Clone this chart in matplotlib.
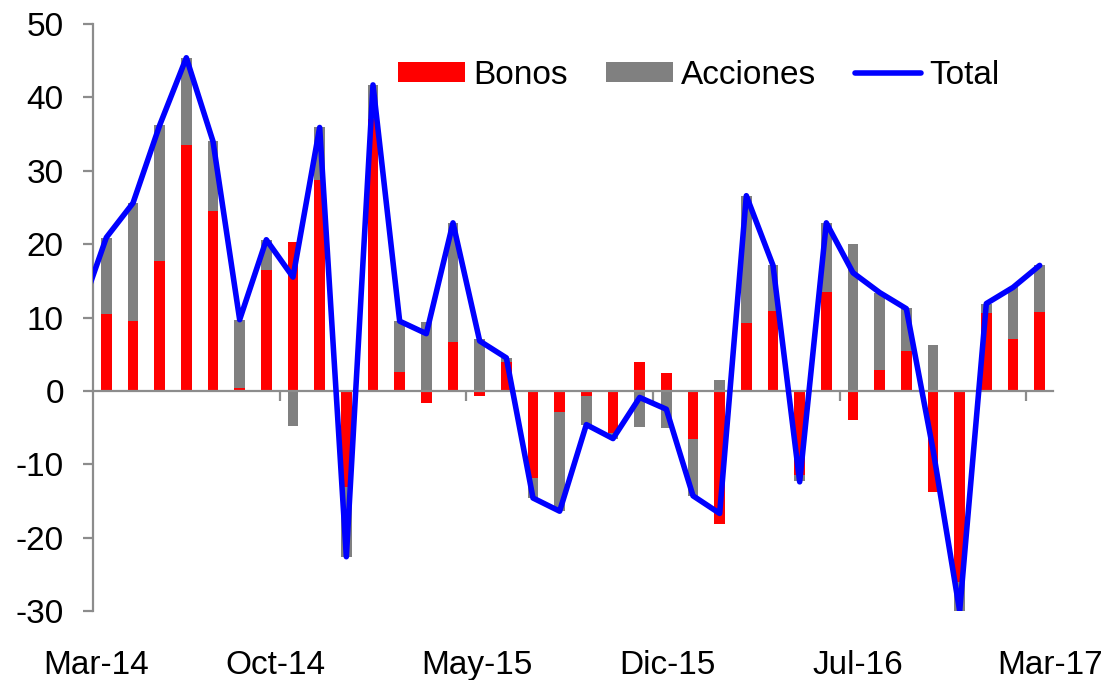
import matplotlib
matplotlib.use("Agg")
import matplotlib.pyplot as plt
import numpy as np

# ---- data ----
months = ["Mar-14", "Abr-14", "May-14", "Jun-14", "Jul-14", "Ago-14", "Sep-14", "Oct-14",
          "Nov-14", "Dic-14", "Ene-15", "Feb-15", "Mar-15", "Abr-15", "May-15", "Jun-15",
          "Jul-15", "Ago-15", "Sep-15", "Oct-15", "Nov-15", "Dic-15", "Ene-16", "Feb-16",
          "Mar-16", "Abr-16", "May-16", "Jun-16", "Jul-16", "Ago-16", "Sep-16", "Oct-16",
          "Nov-16", "Dic-16", "Ene-17", "Feb-17"]
bonos = [10.5, 9.5, 17.7, 33.5, 24.5, 0.4, 16.5, 20.3, 28.7, -13.1, 37.1, 2.6,
         -1.6, 6.6, -0.7, 4.0, -11.9, -2.9, -0.7, -5.7, 3.9, 2.5, -6.6, -18.2,
         9.2, 10.9, -11.5, 13.5, -4.0, 2.9, 5.5, -13.8, -26.0, 10.6, 7.1, 10.8]
acciones = [10.4, 16.1, 18.5, 11.9, 9.5, 9.3, 4.1, -4.8, 7.2, -9.5, 4.6, 6.9,
            9.4, 16.3, 7.1, 0.5, -2.7, -13.5, -4.0, -0.9, -4.9, -5.1, -7.7, 1.5,
            17.4, 6.2, -0.8, 9.4, 20.0, 10.5, 5.8, 6.3, -4.0, 1.3, 7.0, 6.3]
# Total series (line); first value is the month before the visible range (clipped)
total_prev = 10.5
total = [20.9, 25.6, 36.2, 45.4, 34.0, 9.7, 20.6, 15.5, 35.9, -22.6, 41.7, 9.5,
         7.8, 22.9, 6.8, 4.5, -14.6, -16.4, -4.6, -6.5, -0.9, -2.5, -14.3, -16.7,
         26.6, 17.1, -12.4, 22.9, 16.1, 13.4, 11.2, -8.0, -30.0, 11.9, 14.1, 17.1]
xlabels = ["Mar-14", "Oct-14", "May-15", "Dic-15", "Jul-16", "Mar-17"]

# ---- layout ----
label_pos = [-0.39, 6.34, 13.89, 21.04, 28.17, 35.38]
tick_bounds = [6.5, 13.5, 20.5, 27.5, 34.5]

plt.rcParams['font.family'] = ['Liberation Sans', 'DejaVu Sans']
plt.rcParams['axes.unicode_minus'] = False
RED = "#FF0000"
GRAY = "#808080"
BLUE = "#0000FF"
AX = "#8C8C8C"
FS = 24

fig = plt.figure(figsize=(11.07, 6.8), dpi=100)
ax = fig.add_axes([93/1107, 1-611/680, 960/1107, 587/680])

x = np.arange(len(months))
b = np.array(bonos)
a = np.array(acciones)
bottom_a = np.where(a >= 0, np.maximum(b, 0), np.minimum(b, 0))
w = 0.39
h1 = ax.bar(x, b, width=w, color=RED, label="Bonos", zorder=2)
h2 = ax.bar(x, a, width=w, bottom=bottom_a, color=GRAY, label="Acciones", zorder=2)
xl = np.concatenate([[-1], x])
yl = np.concatenate([[total_prev], total])
h3, = ax.plot(xl, yl, color=BLUE, lw=4, label="Total", zorder=4,
              solid_joinstyle='round', solid_capstyle='round')

ax.set_xlim(-0.5, len(months) - 0.5)
ax.set_ylim(-30, 50)
ax.set_yticks(np.arange(-30, 51, 10))

for s in ['top', 'right']:
    ax.spines[s].set_visible(False)
ax.spines['bottom'].set_position(('data', 0))
ax.spines['bottom'].set_color(AX)
ax.spines['bottom'].set_linewidth(1.6)
ax.spines['bottom'].set_zorder(3)
ax.spines['left'].set_color(AX)
ax.spines['left'].set_linewidth(1.6)

ax.tick_params(axis='y', direction='out', length=7, width=1.6, color=AX,
               labelsize=FS, pad=14)
ax.set_xticks(tick_bounds)
ax.tick_params(axis='x', direction='out', length=7, width=1.6, color=AX,
               labelbottom=False)

sec = ax.secondary_xaxis('bottom')
sec.set_xticks(label_pos, labels=xlabels)
sec.tick_params(length=0, labelsize=FS, pad=28)
sec.spines['bottom'].set_visible(False)

leg = ax.legend([h1, h2, h3], ["Bonos", "Acciones", "Total"],
                loc='center left', bbox_to_anchor=(398/1107, 1-75/680),
                bbox_transform=fig.transFigure, ncol=3, frameon=False,
                fontsize=FS, handlelength=2.0, handleheight=0.55,
                handletextpad=0.25, columnspacing=1.15, borderpad=0,
                borderaxespad=0)

fig.savefig("out.png", dpi=100)
